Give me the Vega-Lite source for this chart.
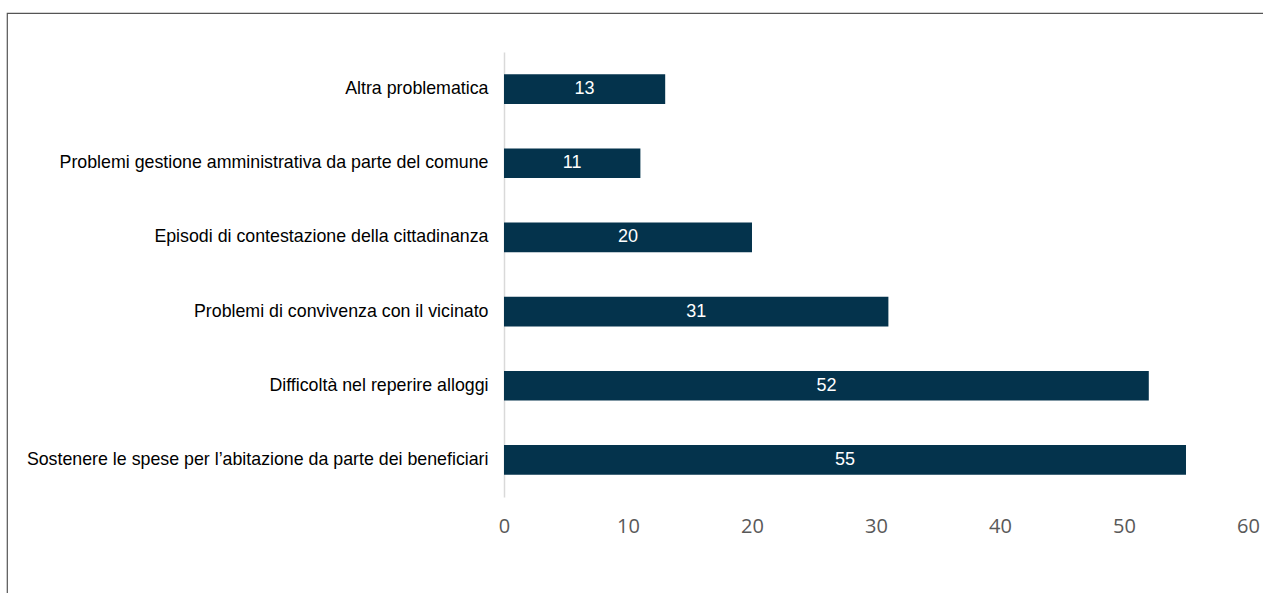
{
  "$schema": "https://vega.github.io/schema/vega-lite/v6.json",
  "autosize": {"type": "none"},
  "width": 1259,
  "height": 583,
  "padding": {"left": 7, "top": 13, "right": -3, "bottom": -3},
  "background": "white",
  "config": {
    "view": {"stroke": "#555555", "strokeWidth": 1.2},
    "font": "Liberation Sans"
  },
  "data": {
    "values": [
      {"categoria": "Altra problematica", "valore": 13},
      {"categoria": "Problemi gestione amministrativa da parte del comune", "valore": 11},
      {"categoria": "Episodi di contestazione della cittadinanza", "valore": 20},
      {"categoria": "Problemi di convivenza con il vicinato", "valore": 31},
      {"categoria": "Difficoltà nel reperire alloggi", "valore": 52},
      {"categoria": "Sostenere le spese per l’abitazione da parte dei beneficiari", "valore": 55}
    ]
  },
  "encoding": {
    "y": {
      "field": "categoria",
      "type": "nominal",
      "sort": null,
      "scale": {"range": [39, 484], "paddingInner": 0.6, "paddingOuter": 0.3},
      "axis": {
        "title": null,
        "offset": -497,
        "ticks": false,
        "domainColor": "#d9d9d9",
        "domainWidth": 1.5,
        "labelPadding": 16,
        "labelFont": "Liberation Sans",
        "labelFontSize": 17.8,
        "labelColor": "#000000",
        "labelLimit": 600
      }
    }
  },
  "layer": [
    {
      "mark": {"type": "bar", "color": "#04334c"},
      "encoding": {
        "x": {
          "field": "valore",
          "type": "quantitative",
          "scale": {"domain": [-40.08, 61.452], "nice": false, "zero": false},
          "axis": {
            "title": null,
            "offset": -99,
            "values": [0, 10, 20, 30, 40, 50, 60],
            "domain": false,
            "ticks": false,
            "grid": false,
            "labelPadding": 19,
            "labelFont": "Open Sans",
            "labelFontSize": 20,
            "labelColor": "#595959"
          }
        },
        "x2": {"datum": 0}
      }
    },
    {
      "mark": {"type": "text", "color": "white", "fontSize": 18, "font": "Liberation Sans", "align": "center", "baseline": "middle"},
      "encoding": {
        "x": {
          "field": "valore",
          "type": "quantitative",
          "scale": {"domain": [-80.16, 122.904], "nice": false, "zero": false},
          "axis": null
        },
        "text": {"field": "valore", "type": "quantitative"}
      }
    }
  ],
  "resolve": {"scale": {"x": "independent"}}
}
